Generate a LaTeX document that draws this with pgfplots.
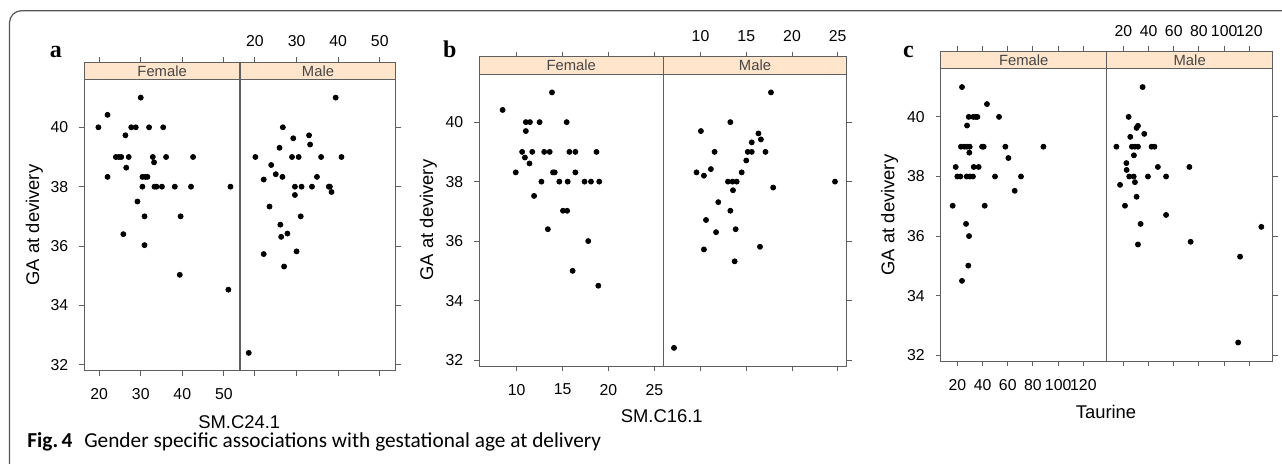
\documentclass[border=0pt]{standalone}
\usepackage{pgfplots}
\pgfplotsset{compat=1.18}
\usepackage{fontspec}
\setmainfont{Liberation Sans}
\newfontfamily\serifb{Liberation Serif}
\newfontfamily\capfont{Carlito}
\definecolor{lincol}{RGB}{95,95,95}
\definecolor{stripcol}{RGB}{255,229,204}
\definecolor{striptext}{RGB}{70,70,70}
\definecolor{framecol}{RGB}{85,85,85}
\pgfplotsset{
  lat/.style={
    scale only axis, axis on top, anchor=south west,
    ymin=31.8, ymax=42.2, ytick={32,34,36,38,40},
    tick align=outside, major tick length=2.5pt,
    axis line style={lincol, line width=0.5pt},
    tick style={lincol, line width=0.5pt},
    tick label style={font=\fontsize{7.9}{9}\selectfont},
    /pgf/number format/assume math mode=true,
    xtick pos=both,
  },
  fem/.style={lat, xticklabel pos=left, ytick pos=left, yticklabel pos=left,
    xticklabel shift=3.0pt, yticklabel shift=2.0pt},
  mal/.style={lat, xticklabel pos=right, ytick pos=right, yticklabel pos=right,
    yticklabels={}, xticklabel shift=1.5pt},
  dots/.style={only marks, mark=*, mark size=1.25pt, draw=black, fill=black},
}
\newcommand{\strip}[1]{%
  \fill[stripcol] (rel axis cs:0,0.9433) rectangle (rel axis cs:1,1);
  \draw[lincol, line width=0.5pt] (rel axis cs:0,0.9433) -- (rel axis cs:1,0.9433);
  \node[font=\fontsize{7.4}{8}\selectfont, text=striptext] at (rel axis cs:0.5,0.9716) {#1};
}
\begin{document}
\begin{tikzpicture}
% ---------------- panel a ----------------
\begin{axis}[fem, at={(42.15pt,46.15pt)}, width=77.85pt, height=154.35pt,
  xmin=16.4, xmax=53.9, xtick={20,30,40,50}]
\strip{Female}
\addplot[dots] coordinates {
(19.8,40.0) (22.0,40.42) (22.0,38.33) (30.0,41.0) (26.3,39.73) (27.7,40) (28.8,40)
(32.0,40) (35.4,40) (24.0,39) (24.7,39) (25.3,39) (27.1,39) (32.9,39) (36.1,39)
(42.6,39) (33.2,38.82) (26.5,38.64) (30.4,38.33) (31.1,38.33) (31.6,38.33) (30.4,38)
(33.3,38) (33.8,38) (35.1,38) (38.2,38) (42.1,38) (51.6,38) (29.2,37.5) (30.9,37.0)
(39.6,37) (25.8,36.4) (30.9,36.03) (39.4,35.03) (51.1,34.53)};
\end{axis}
\begin{axis}[mal, at={(120pt,46.15pt)}, width=78pt, height=154.35pt,
  xmin=16.4, xmax=53.9, xtick={20,30,40,50}]
\strip{Male}
\addplot[dots] coordinates {
(39.4,41.0) (26.7,40) (29.2,39.63) (33.0,39.73) (33.25,39.42) (25.9,39.31) (20.1,39)
(28.9,39) (30.5,39) (35.9,39) (40.8,39) (23.9,38.73) (25.0,38.42) (26.6,38.33)
(22.1,38.24) (34.9,38.33) (29.6,38) (31.2,38) (33.7,38) (37.75,38) (38.0,38)
(38.4,37.82) (29.6,37.72) (23.5,37.33) (31.0,37.0) (26.1,36.72) (26.3,36.31)
(27.8,36.42) (22.1,35.73) (30.0,35.82) (27.0,35.31) (18.5,32.40)};
\end{axis}
% ---------------- panel b ----------------
\begin{axis}[fem, at={(239.65pt,48.5pt)}, width=92pt, height=154.65pt,
  xmin=5.93, xmax=25.98, xtick={10,15,20,25}]
\strip{Female}
\addplot[dots] coordinates {
(8.47,40.41) (13.85,41.0) (11.0,40) (11.45,40) (12.5,40) (15.45,40) (11.0,39.7)
(10.6,39) (11.7,39) (13.0,39) (13.6,39) (15.75,39) (16.4,39) (18.7,39) (10.9,38.81)
(11.4,38.61) (9.9,38.31) (13.96,38.31) (14.15,38.31) (16.4,38.31) (12.7,38) (14.65,38)
(15.56,38) (17.4,38) (18.1,38) (19.0,38) (11.9,37.52) (15.05,37.02) (15.5,37.02)
(13.4,36.4) (17.8,36.0) (16.1,35.0) (18.9,34.5)};
\end{axis}
\begin{axis}[mal, at={(331.65pt,48.5pt)}, width=91.7pt, height=154.65pt,
  xmin=5.93, xmax=25.98, xtick={10,15,20,25}]
\strip{Male}
\addplot[dots] coordinates {
(17.7,41.0) (13.26,40) (10.04,39.7) (16.33,39.62) (16.6,39.42) (15.6,39.32) (11.54,39)
(15.16,39) (15.6,39) (17.1,39) (15.0,38.71) (11.13,38.42) (9.56,38.31) (10.37,38.2)
(14.5,38.31) (13.0,38) (13.5,38) (13.95,38) (24.7,38) (13.55,37.71) (17.94,37.8)
(11.94,37.31) (13.26,37.02) (10.6,36.71) (11.7,36.3) (13.84,36.4) (10.37,35.72)
(16.5,35.81) (13.73,35.32) (7.1,32.41)};
\end{axis}
% ---------------- panel c ----------------
\begin{axis}[fem, at={(470.35pt,50.85pt)}, width=83pt, height=155pt,
  xmin=6.8, xmax=138.5, xtick={20,40,60,80,100,120}]
\strip{Female}
\addplot[dots] coordinates {
(23.7,41.0) (43.5,40.43) (29.0,40) (32.7,40) (34.6,40) (35.9,40) (53.1,40) (27.7,39.71)
(22.9,39) (25.6,39) (27.7,39) (29.8,39) (39.6,39) (40.9,39) (58.1,39) (88.3,39)
(29.5,38.8) (60.5,38.62) (18.7,38.32) (33.0,38.32) (36.9,38.32) (20.0,38) (22.4,38)
(27.4,38) (30.1,38) (32.4,38) (49.9,38) (70.5,38) (65.5,37.52) (16.3,37.02)
(41.7,37.02) (26.9,36.41) (29.3,36.0) (28.7,35.01) (23.7,34.5)};
\end{axis}
\begin{axis}[mal, at={(553.35pt,50.85pt)}, width=83pt, height=155pt,
  xmin=6.8, xmax=138.5, xtick={20,40,60,80,100,120}]
\strip{Male}
\addplot[dots] coordinates {
(35.3,41.0) (24.2,40) (31.6,39.7) (30.5,39.63) (25.5,39.33) (36.6,39.43) (14.5,39)
(26.8,39) (29.2,39) (31.6,39) (42.4,39) (44.7,39) (28.4,38.71) (22.4,38.45)
(22.6,38.22) (47.4,38.32) (72.4,38.32) (24.7,38) (28.2,38) (39.5,38) (53.9,38)
(17.4,37.72) (29.2,37.81) (30.5,37.32) (21.3,37.02) (53.9,36.71) (33.7,36.41)
(129.5,36.31) (31.6,35.72) (73.4,35.81) (112.6,35.31) (111.1,32.43)};
\end{axis}
% ---------------- labels ----------------
\node[anchor=base west, font=\serifb\bfseries\fontsize{12}{14}\selectfont] at (21.35pt,203pt) {a};
\node[anchor=base west, font=\serifb\bfseries\fontsize{12}{14}\selectfont] at (218pt,203pt) {b};
\node[anchor=base west, font=\serifb\bfseries\fontsize{12}{14}\selectfont] at (448pt,203pt) {c};
\node[anchor=base, font=\fontsize{9.2}{11}\selectfont] at (119.65pt,17.5pt) {SM.C24.1};
\node[anchor=base, font=\fontsize{9.2}{11}\selectfont] at (330.85pt,20.15pt) {SM.C16.1};
\node[anchor=base, font=\fontsize{9.2}{11}\selectfont] at (553pt,22.35pt) {Taurine};
\node[rotate=90, font=\fontsize{9.2}{11}\selectfont] at (17.15pt,119pt) {GA at devivery};
\node[rotate=90, font=\fontsize{9.2}{11}\selectfont] at (214.15pt,121.5pt) {GA at devivery};
\node[rotate=90, font=\fontsize{9.2}{11}\selectfont] at (444.85pt,124pt) {GA at devivery};
\node[anchor=base west, inner sep=0pt, font=\capfont\fontsize{10.65}{12}\selectfont] at (13.5pt,7.65pt)
  {\textbf{Fig.\,4}\hspace{0.55em}Gender specific associations with gestational age at delivery};
\draw[framecol, line width=0.6pt, rounded corners=6pt] (4.75pt,-2pt) -- (4.75pt,226.15pt) -- (645pt,226.15pt);
\pgfresetboundingbox
\useasboundingbox (0pt,0pt) rectangle (641pt,231.5pt);
\end{tikzpicture}
\end{document}
